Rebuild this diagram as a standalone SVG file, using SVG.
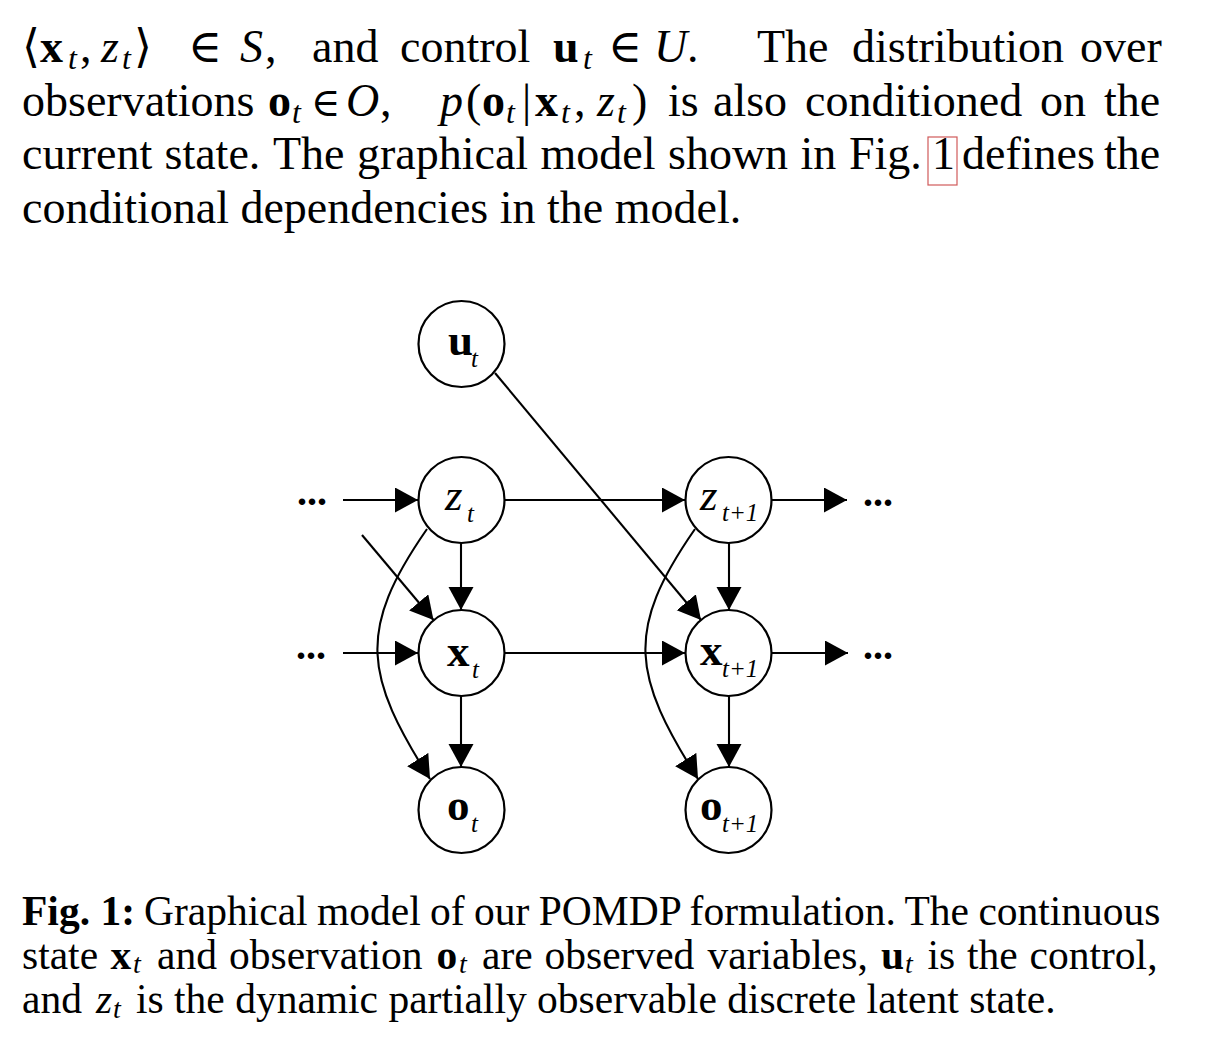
<svg xmlns="http://www.w3.org/2000/svg" width="1212" height="1052" viewBox="0 0 1212 1052">
<defs>
<style>
.t{font-family:"Liberation Serif","DejaVu Serif",serif;font-size:46px;fill:#000}
.cap{font-size:41.5px}
.b{font-weight:bold}
.i{font-style:italic}
.s{font-size:32px;font-style:italic}
.el{font-size:40px}
.cs{font-size:28px;font-style:italic}
.nc{fill:#fff;stroke:#000;stroke-width:2.2}
.lbl{font-family:"Liberation Serif","DejaVu Serif",serif;font-size:45px;fill:#000}
.ns{font-family:"Liberation Serif","DejaVu Serif",serif;font-size:25px;font-style:italic;fill:#000}
.dots{font-family:"Liberation Serif","DejaVu Serif",serif;font-size:40px;font-weight:bold;fill:#000}
.e{stroke:#000;stroke-width:2.1;fill:none;marker-end:url(#ah)}
</style>
<marker id="ah" markerUnits="userSpaceOnUse" markerWidth="24" markerHeight="26" refX="23" refY="12.5" orient="auto">
<path d="M0,0 L23,12.5 L0,25 Z" fill="#000"/>
</marker>
</defs>
<rect width="1212" height="1052" fill="#fff"/>

<g id="body-text">
<text class="t" y="62"><tspan x="22">⟨</tspan><tspan x="40" class="b">x</tspan><tspan x="68" dy="7" class="s">t</tspan><tspan x="80" dy="-7">,</tspan><tspan x="101" class="i">z</tspan><tspan x="122" dy="7" class="s">t</tspan><tspan x="134" dy="-7">⟩</tspan><tspan x="188">∈</tspan><tspan x="240" class="i">S</tspan><tspan x="265">,</tspan><tspan x="312">and</tspan><tspan x="400">control</tspan><tspan x="553" class="b">u</tspan><tspan x="583" dy="7" class="s">t</tspan><tspan x="608" dy="-7">∈</tspan><tspan x="654" class="i">U</tspan><tspan x="687">.</tspan><tspan x="757">The</tspan><tspan x="852">distribution</tspan><tspan x="1080">over</tspan></text>
<text class="t" y="115.5"><tspan x="22">observations</tspan><tspan x="268" class="b">o</tspan><tspan x="292" dy="7" class="s">t</tspan><tspan x="311" dy="-7" class="el">∈</tspan><tspan x="346" class="i">O</tspan><tspan x="380">,</tspan><tspan x="440" class="i">p</tspan><tspan x="466">(</tspan><tspan x="482" class="b">o</tspan><tspan x="506" dy="7" class="s">t</tspan><tspan x="522" dy="-7">|</tspan><tspan x="535" class="b">x</tspan><tspan x="561" dy="7" class="s">t</tspan><tspan x="574" dy="-7">,</tspan><tspan x="597" class="i">z</tspan><tspan x="617" dy="7" class="s">t</tspan><tspan x="632" dy="-7">)</tspan><tspan x="668">is</tspan><tspan x="713">also</tspan><tspan x="805">conditioned</tspan><tspan x="1040">on</tspan><tspan x="1104">the</tspan></text>
<text class="t" y="169"><tspan x="22">current</tspan><tspan x="164.5">state.</tspan><tspan x="273">The</tspan><tspan x="357">graphical</tspan><tspan x="540.5">model</tspan><tspan x="668">shown</tspan><tspan x="800.5">in</tspan><tspan x="849">Fig.</tspan><tspan x="932">1</tspan><tspan x="962">defines</tspan><tspan x="1104">the</tspan></text>
<rect x="928" y="137" width="29" height="48" fill="none" stroke="#d05a5a" stroke-width="1.2"/>
<text class="t" x="22" y="222.5">conditional dependencies in the model.</text>
</g>

<g id="connectors">
<path class="e" d="M343,500 L418,500"/>
<path class="e" d="M504,500 L685,500"/>
<path class="e" d="M772,500 L847,500"/>
<path class="e" d="M343,653 L418,653"/>
<path class="e" d="M504,653 L685,653"/>
<path class="e" d="M772,653 L848,653"/>
<path class="e" d="M461,543 L461,610"/>
<path class="e" d="M461,696 L461,767"/>
<path class="e" d="M729,543 L729,610"/>
<path class="e" d="M729,696 L729,767"/>
<path class="e" d="M495,373 L701,620"/>
<path class="e" d="M362,535 L433.5,620"/>
<path class="e" d="M427,529 C356,631 365,676 430,779"/>
<path class="e" d="M695,529 C624,631 633,676 698,779"/>
</g>

<g id="ellipses">
<text class="dots" x="297" y="505">...</text>
<text class="dots" x="863" y="506">...</text>
<text class="dots" x="296" y="659">...</text>
<text class="dots" x="863" y="659">...</text>
</g>

<g id="node-ut"><circle class="nc" cx="461.5" cy="344" r="43"/><text class="lbl b" x="448" y="355">u</text><text class="ns" x="471" y="367">t</text></g>
<g id="node-zt"><circle class="nc" cx="461.5" cy="500" r="43"/><text class="lbl i" x="445" y="510">z</text><text class="ns" x="467" y="522">t</text></g>
<g id="node-xt"><circle class="nc" cx="461.5" cy="653" r="43"/><text class="lbl b" x="447" y="666">x</text><text class="ns" x="472" y="678">t</text></g>
<g id="node-ot"><circle class="nc" cx="461.5" cy="810" r="43"/><text class="lbl b" x="447" y="820">o</text><text class="ns" x="471" y="832">t</text></g>
<g id="node-zt1"><circle class="nc" cx="728.5" cy="500" r="43"/><text class="lbl i" x="700" y="510">z</text><text class="ns" x="722" y="521">t+1</text></g>
<g id="node-xt1"><circle class="nc" cx="728.5" cy="653" r="43"/><text class="lbl b" x="700" y="665">x</text><text class="ns" x="722" y="677">t+1</text></g>
<g id="node-ot1"><circle class="nc" cx="728.5" cy="810" r="43"/><text class="lbl b" x="700" y="820">o</text><text class="ns" x="722" y="832">t+1</text></g>

<g id="caption">
<text class="t cap" y="925"><tspan x="22" class="b">Fig. 1:</tspan><tspan x="144" word-spacing="-1">Graphical model of our POMDP formulation. The continuous</tspan></text>
<text class="t cap" y="969"><tspan x="22">state</tspan><tspan x="110.5" class="b">x</tspan><tspan x="133" dy="4" class="cs">t</tspan><tspan x="157" dy="-4">and</tspan><tspan x="229">observation</tspan><tspan x="436.6" class="b">o</tspan><tspan x="459" dy="4" class="cs">t</tspan><tspan x="482" dy="-4">are</tspan><tspan x="544.5">observed</tspan><tspan x="707.6">variables,</tspan><tspan x="881" class="b">u</tspan><tspan x="905" dy="4" class="cs">t</tspan><tspan x="927.6" dy="-4">is</tspan><tspan x="967">the</tspan><tspan x="1029.6">control,</tspan></text>
<text class="t cap" y="1013"><tspan x="22">and</tspan><tspan x="96" class="i">z</tspan><tspan x="113" dy="5" class="cs">t</tspan><tspan x="136" dy="-5">is the dynamic partially observable discrete latent state.</tspan></text>
</g>
</svg>
